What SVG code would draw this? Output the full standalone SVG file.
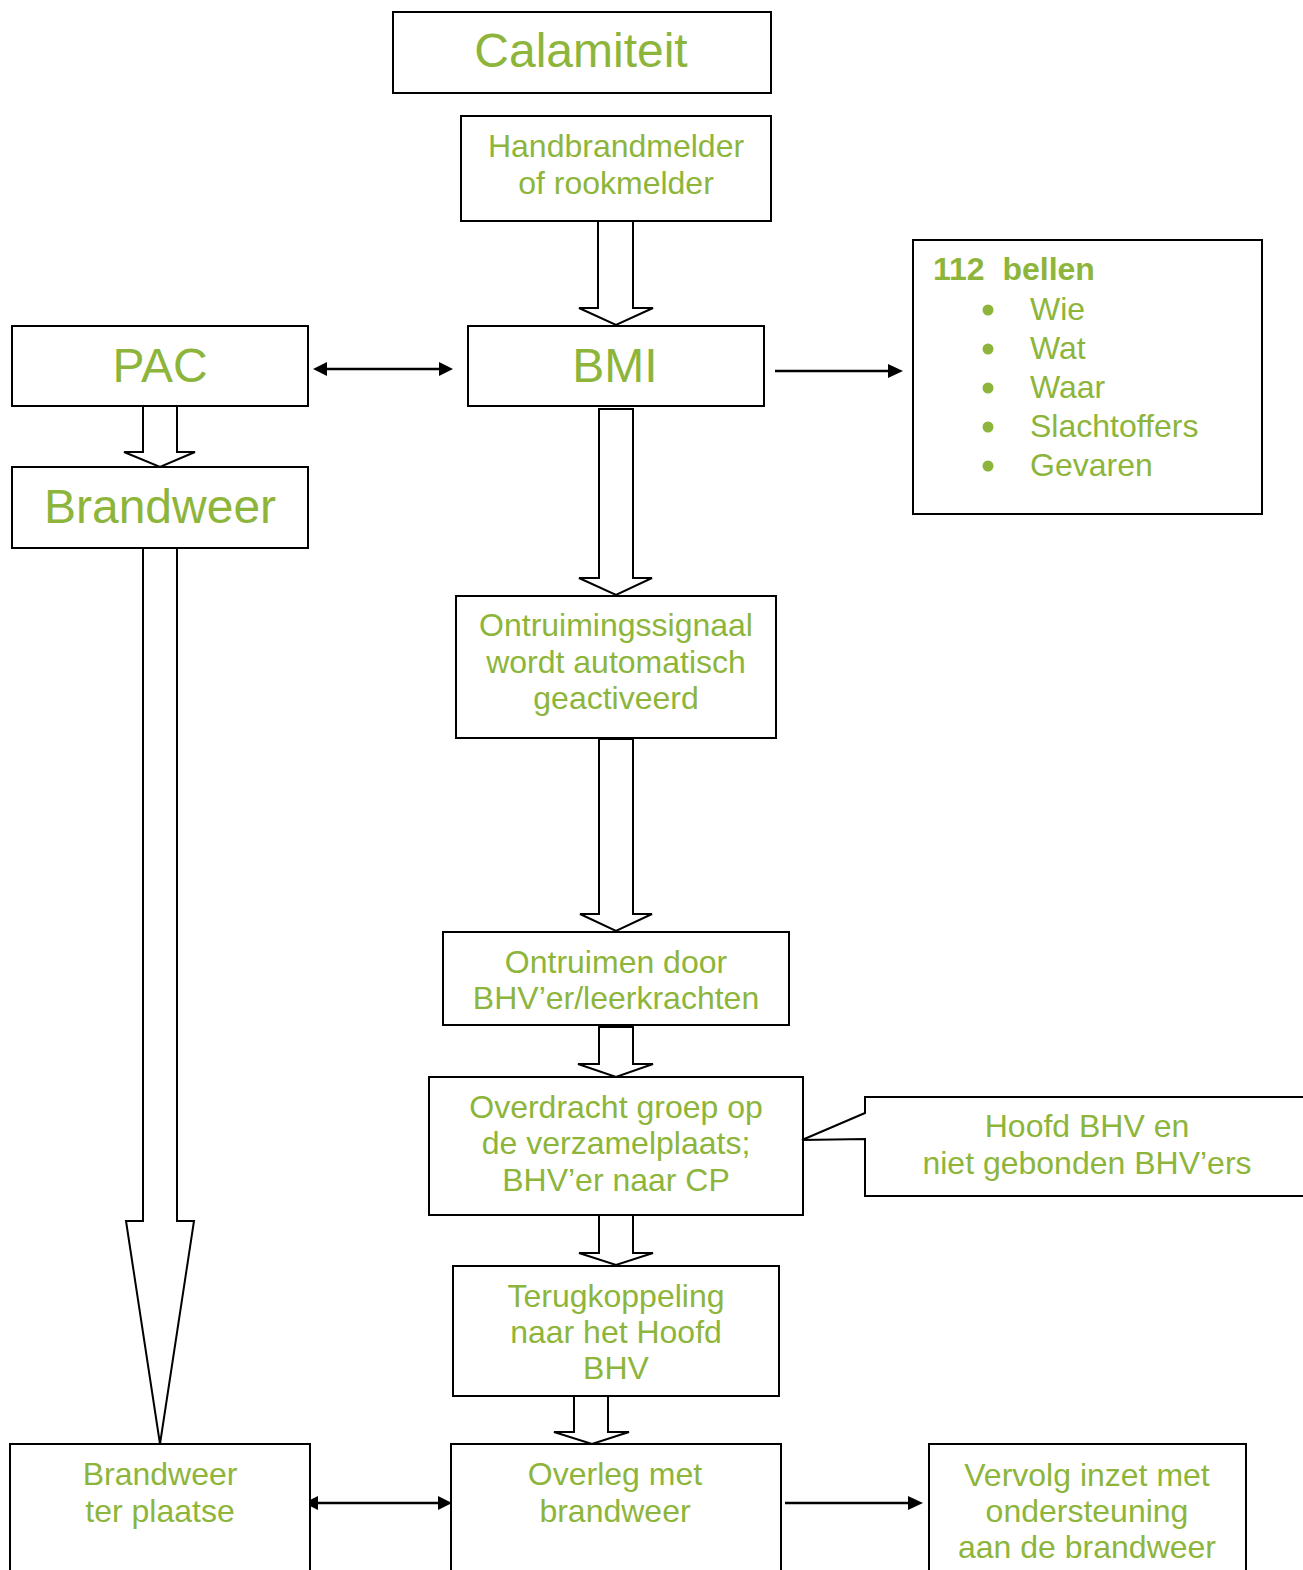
<svg xmlns="http://www.w3.org/2000/svg" width="1303" height="1570" viewBox="0 0 1303 1570">
<style>
.box{fill:#fff;stroke:#000;stroke-width:2}
.blk{fill:#fff;stroke:#000;stroke-width:2;stroke-linejoin:miter}
.t{font-family:"Liberation Sans",Arial,sans-serif;fill:#8DB53B;text-anchor:middle;font-size:32px}
.big{font-size:48px}
.l{text-anchor:start}
.ln{stroke:#000;stroke-width:2.5;fill:none}
.hd{fill:#000}
.dot{fill:#8DB53B}
</style>
<rect width="1303" height="1570" fill="#fff"/>
<g id="connectors">
  <polygon class="blk" points="598,221 633,221 633,308 653,308 616,325 579,308 598,308"/>
  <polygon class="blk" points="143,406 177,406 177,452 195,452 160,467 124,452 143,452"/>
  <polygon class="blk" points="599,409 633,409 633,578 652,578 616,595 579,578 599,578"/>
  <polygon class="blk" points="143,548 177,548 177,1221 194,1221 160,1444 126,1221 143,1221"/>
  <polygon class="blk" points="599,739 633,739 633,914 652,914 616,931 580,914 599,914"/>
  <polygon class="blk" points="599,1027 633,1027 633,1064 653,1064 616,1077 578,1064 599,1064"/>
  <polygon class="blk" points="599,1215 633,1215 633,1253 653,1253 616,1265 579,1253 599,1253"/>
  <polygon class="blk" points="574,1394 608,1394 608,1432 629,1432 592,1444 554,1432 574,1432"/>
  <line class="ln" x1="324" y1="369" x2="442" y2="369"/>
  <polygon class="hd" points="313,369 327,362 327,376"/>
  <polygon class="hd" points="453,369 439,362 439,376"/>
  <line class="ln" x1="775" y1="371" x2="890" y2="371"/>
  <polygon class="hd" points="903,371 888,364 888,378"/>
  <line class="ln" x1="316" y1="1503" x2="441" y2="1503"/>
  <polygon class="hd" points="304,1503 318,1496 318,1510"/>
  <polygon class="hd" points="452,1503 438,1496 438,1510"/>
  <line class="ln" x1="785" y1="1503" x2="910" y2="1503"/>
  <polygon class="hd" points="923,1503 908,1496 908,1510"/>
</g>
<g id="calamiteit">
  <rect class="box" x="393" y="12" width="378" height="81"/>
  <text class="t big" x="581" y="67">Calamiteit</text>
</g>
<g id="handbrandmelder">
  <rect class="box" x="461" y="116" width="310" height="105"/>
  <text class="t" x="616" y="157">Handbrandmelder</text>
  <text class="t" x="616" y="194">of rookmelder</text>
</g>
<g id="pac">
  <rect class="box" x="12" y="326" width="296" height="80"/>
  <text class="t big" x="160" y="382">PAC</text>
</g>
<g id="bmi">
  <rect class="box" x="468" y="326" width="296" height="80"/>
  <text class="t big" x="615" y="382">BMI</text>
</g>
<g id="bellen112">
  <rect class="box" x="913" y="240" width="349" height="274"/>
  <text class="t l" x="933" y="280" font-weight="bold" xml:space="preserve">112  bellen</text>
  <circle class="dot" cx="988" cy="310" r="5.5"/>
  <text class="t l" x="1030" y="320">Wie</text>
  <circle class="dot" cx="988" cy="349" r="5.5"/>
  <text class="t l" x="1030" y="359">Wat</text>
  <circle class="dot" cx="988" cy="388" r="5.5"/>
  <text class="t l" x="1030" y="398">Waar</text>
  <circle class="dot" cx="988" cy="427" r="5.5"/>
  <text class="t l" x="1030" y="437">Slachtoffers</text>
  <circle class="dot" cx="988" cy="466" r="5.5"/>
  <text class="t l" x="1030" y="476">Gevaren</text>
</g>
<g id="brandweer">
  <rect class="box" x="12" y="467" width="296" height="81"/>
  <text class="t big" x="160" y="523">Brandweer</text>
</g>
<g id="ontruimingssignaal">
  <rect class="box" x="456" y="596" width="320" height="142"/>
  <text class="t" x="616" y="636">Ontruimingssignaal</text>
  <text class="t" x="616" y="673">wordt automatisch</text>
  <text class="t" x="616" y="709">geactiveerd</text>
</g>
<g id="ontruimen">
  <rect class="box" x="443" y="932" width="346" height="93"/>
  <text class="t" x="616" y="973">Ontruimen door</text>
  <text class="t" x="616" y="1009">BHV’er/leerkrachten</text>
</g>
<g id="overdracht">
  <rect class="box" x="429" y="1077" width="374" height="138"/>
  <text class="t" x="616" y="1118">Overdracht groep op</text>
  <text class="t" x="616" y="1154">de verzamelplaats;</text>
  <text class="t" x="616" y="1191">BHV’er naar CP</text>
</g>
<g id="hoofdbhv">
  <path class="box" d="M865,1097 H1310 V1196 H865 V1139 L802,1140 L865,1113 Z"/>
  <text class="t" x="1087" y="1137">Hoofd BHV en</text>
  <text class="t" x="1087" y="1174">niet gebonden BHV’ers</text>
</g>
<g id="terugkoppeling">
  <rect class="box" x="453" y="1266" width="326" height="130"/>
  <text class="t" x="616" y="1307">Terugkoppeling</text>
  <text class="t" x="616" y="1343">naar het Hoofd</text>
  <text class="t" x="616" y="1379">BHV</text>
</g>
<g id="brandweerterplaatse">
  <rect class="box" x="10" y="1444" width="300" height="160"/>
  <text class="t" x="160" y="1485">Brandweer</text>
  <text class="t" x="160" y="1522">ter plaatse</text>
</g>
<g id="overleg">
  <rect class="box" x="451" y="1444" width="330" height="160"/>
  <text class="t" x="615" y="1485">Overleg met</text>
  <text class="t" x="615" y="1522">brandweer</text>
</g>
<g id="vervolg">
  <rect class="box" x="929" y="1444" width="317" height="160"/>
  <text class="t" x="1087" y="1486">Vervolg inzet met</text>
  <text class="t" x="1087" y="1522">ondersteuning</text>
  <text class="t" x="1087" y="1558">aan de brandweer</text>
</g>
</svg>
